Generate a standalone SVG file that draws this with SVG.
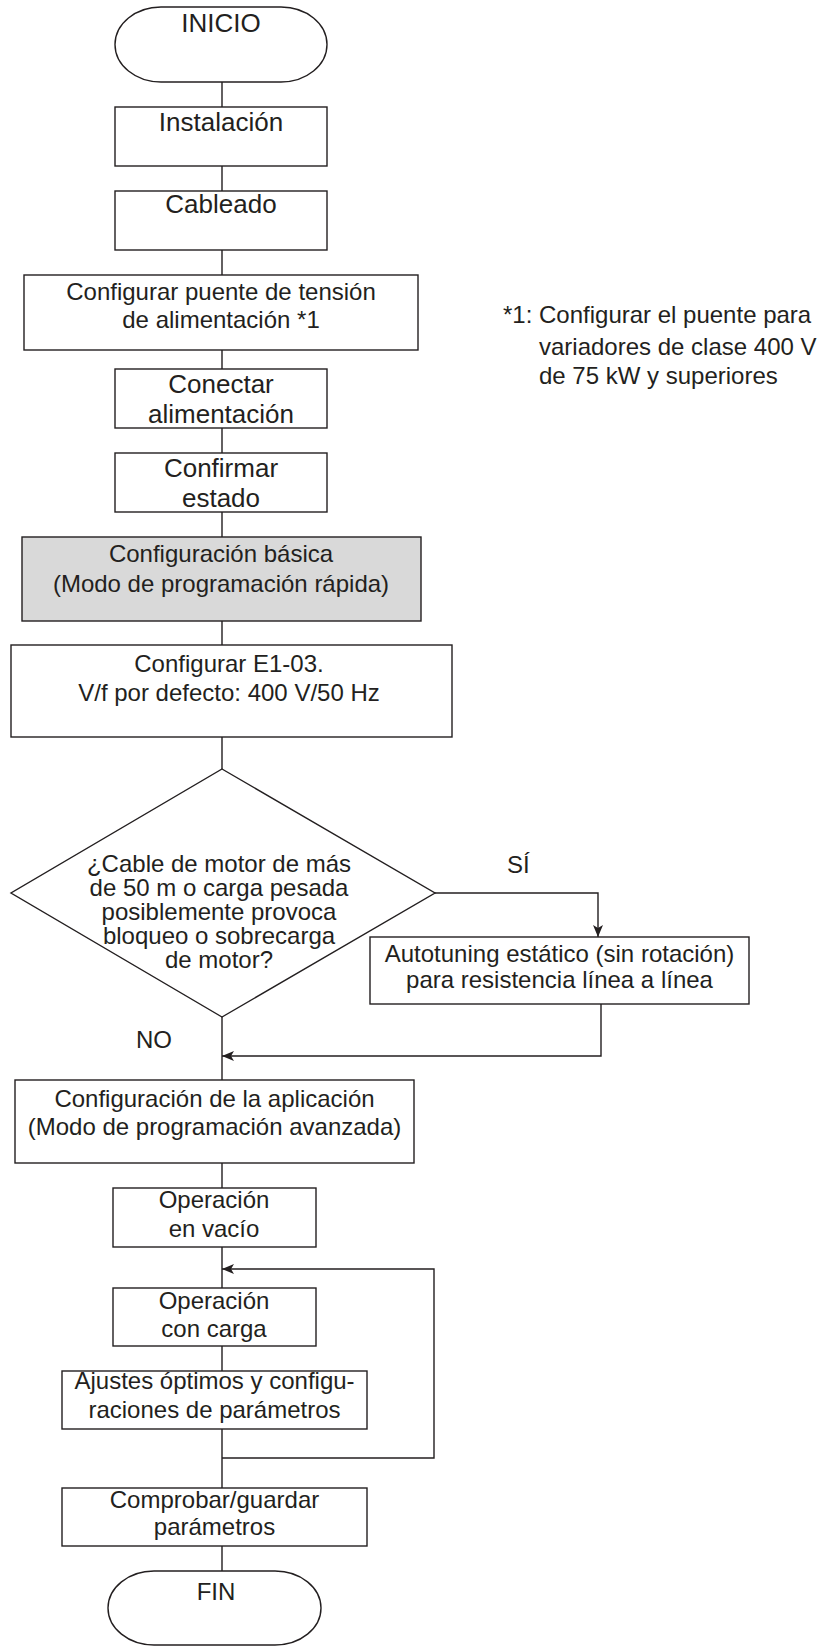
<svg xmlns="http://www.w3.org/2000/svg" width="818" height="1646" viewBox="0 0 818 1646">
<defs>
<style>
.n{fill:#fff;stroke:#231f20;stroke-width:1.4}
.g{fill:#d9d9d9;stroke:#231f20;stroke-width:1.4}
.c{fill:none;stroke:#231f20;stroke-width:1.4}
text{font-family:"Liberation Sans",Arial,sans-serif;fill:#231f20;font-size:24px}
.m{text-anchor:middle}
.b{font-size:26px}
</style>
<marker id="ah" viewBox="0 0 12 10" refX="12" refY="5" markerWidth="12" markerHeight="10" markerUnits="userSpaceOnUse" orient="auto">
<path d="M0,0 L12,5 L0,10 L3,5 z" fill="#231f20"/>
</marker>
</defs>
<rect width="818" height="1646" fill="#fff"/>
<g id="connectors">
<path class="c" d="M222,82V107M222,166V191M222,250V275M222,350V369M222,428V453M222,512V537M222,621V645M222,737V769"/>
<path class="c" d="M435,893H598V937" marker-end="url(#ah)"/>
<path class="c" d="M222,1017V1080"/>
<path class="c" d="M601,1004V1056H222" marker-end="url(#ah)"/>
<path class="c" d="M222,1163V1188M222,1247V1288M222,1346V1371M222,1429V1488M222,1546V1571"/>
<path class="c" d="M222,1458H434V1269H222" marker-end="url(#ah)"/>
</g>
<g id="inicio"><rect class="n" x="115" y="7" width="212" height="75" rx="46" ry="37.5"/><text class="m b" x="221" y="32">INICIO</text></g>
<g id="instalacion"><rect class="n" x="115" y="107" width="212" height="59"/><text class="m b" x="221" y="131">Instalación</text></g>
<g id="cableado"><rect class="n" x="115" y="191" width="212" height="59"/><text class="m b" x="221" y="213">Cableado</text></g>
<g id="puente"><rect class="n" x="24" y="275" width="394" height="75"/><text class="m" x="221" y="300">Configurar puente de tensión</text><text class="m" x="221" y="328">de alimentación *1</text></g>
<g id="conectar"><rect class="n" x="115" y="369" width="212" height="59"/><text class="m b" x="221" y="393">Conectar</text><text class="m b" x="221" y="423">alimentación</text></g>
<g id="confirmar"><rect class="n" x="115" y="453" width="212" height="59"/><text class="m b" x="221" y="477">Confirmar</text><text class="m b" x="221" y="507">estado</text></g>
<g id="basica"><rect class="g" x="22" y="537" width="399" height="84"/><text class="m" x="221" y="562">Configuración básica</text><text class="m" x="221" y="592">(Modo de programación rápida)</text></g>
<g id="e103"><rect class="n" x="11" y="645" width="441" height="92"/><text class="m" x="229" y="672">Configurar E1-03.</text><text class="m" x="229" y="701">V/f por defecto: 400 V/50 Hz</text></g>
<g id="decision"><path class="n" d="M222,769L435,893L222,1017L11,893Z"/>
<text class="m" x="219" y="872">¿Cable de motor de más</text>
<text class="m" x="219" y="896">de 50 m o carga pesada</text>
<text class="m" x="219" y="920">posiblemente provoca</text>
<text class="m" x="219" y="944">bloqueo o sobrecarga</text>
<text class="m" x="219" y="968">de motor?</text></g>
<g id="autotuning"><rect class="n" x="370" y="937" width="379" height="67"/><text class="m" x="559.5" y="962">Autotuning estático (sin rotación)</text><text class="m" x="559.5" y="988">para resistencia línea a línea</text></g>
<g id="labels"><text x="507" y="873">SÍ</text><text x="136" y="1048">NO</text></g>
<g id="aplicacion"><rect class="n" x="15" y="1080" width="399" height="83"/><text class="m" x="214.5" y="1107">Configuración de la aplicación</text><text class="m" x="214.5" y="1135">(Modo de programación avanzada)</text></g>
<g id="vacio"><rect class="n" x="113" y="1188" width="203" height="59"/><text class="m" x="214" y="1208">Operación</text><text class="m" x="214" y="1237">en vacío</text></g>
<g id="carga"><rect class="n" x="113" y="1288" width="203" height="58"/><text class="m" x="214" y="1309">Operación</text><text class="m" x="214" y="1337">con carga</text></g>
<g id="ajustes"><rect class="n" x="62" y="1371" width="305" height="58"/><text class="m" x="214.5" y="1389">Ajustes óptimos y configu-</text><text class="m" x="214.5" y="1418">raciones de parámetros</text></g>
<g id="comprobar"><rect class="n" x="62" y="1488" width="305" height="58"/><text class="m" x="214.5" y="1508">Comprobar/guardar</text><text class="m" x="214.5" y="1535">parámetros</text></g>
<g id="fin"><rect class="n" x="108" y="1571" width="213" height="74" rx="46" ry="37"/><text class="m" x="216" y="1600">FIN</text></g>
<g id="nota"><text x="503" y="323">*1:</text><text x="539" y="323">Configurar el puente para</text><text x="539" y="355">variadores de clase 400 V</text><text x="539" y="384">de 75 kW y superiores</text></g>
</svg>
